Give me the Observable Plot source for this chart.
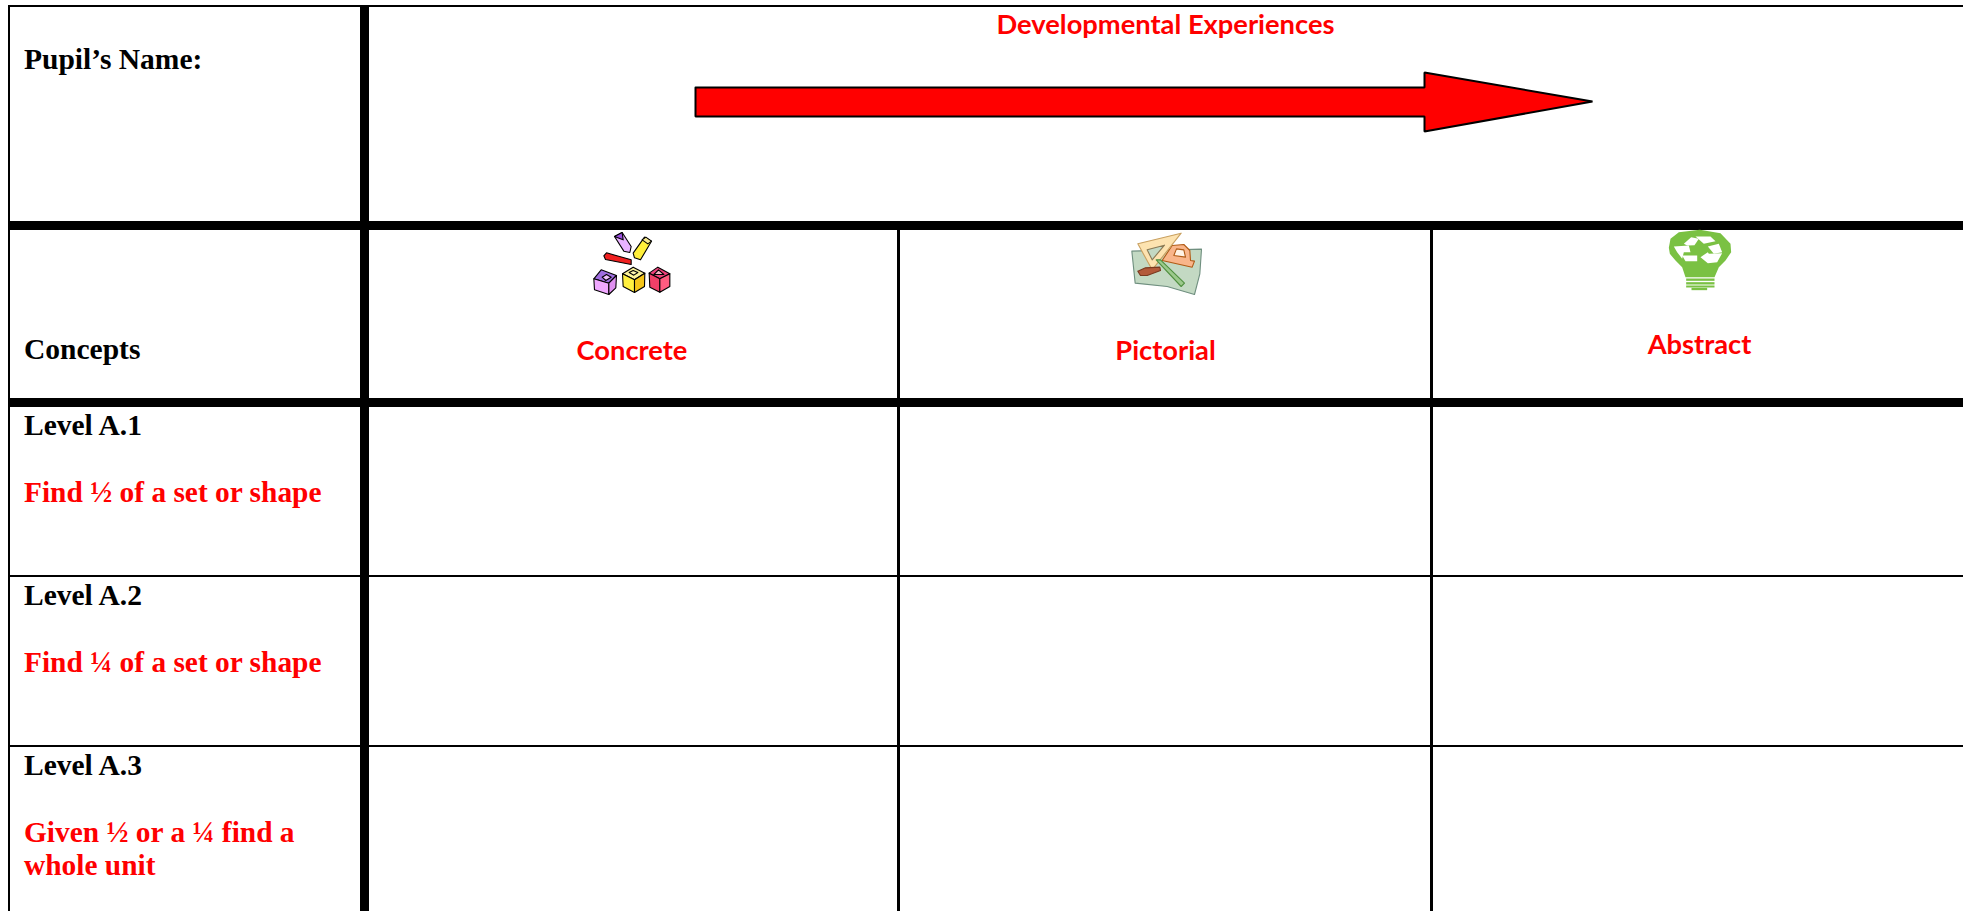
<!DOCTYPE html>
<html><head><meta charset="utf-8">
<style>html,body{margin:0;padding:0;background:#fff;overflow:hidden}svg{display:block}</style>
<script src="https://cdn.jsdelivr.net/npm/d3@7"></script>
<script src="https://cdn.jsdelivr.net/npm/@observablehq/plot@0.6"></script>
</head><body><div id="chart"></div>
<script>
const serif = "'Liberation Serif','Times New Roman',serif";
const sans = "Lato,Carlito,Calibri,sans-serif";
const RED = "#ff0000";

// Table rules [x1,x2,y1,y2]
const rules = [
  [8,1963,5,7],       // top border
  [8,10,5,911],       // left border
  [360,369,5,911],    // thick column rule
  [8,1963,221,230],   // thick row rule
  [8,1963,398,407],   // thick row rule
  [897,900,230,911],  // column rule
  [1430,1433,230,911],// column rule
  [8,1963,575,577],   // row rule
  [8,1963,745,747]    // row rule
];

// Text labels
const blackLabels = [
  ["Pupil’s Name:",23.5,68],
  ["Concepts",23.5,358],
  ["Level A.1",23.5,434],
  ["Level A.2",23.5,604],
  ["Level A.3",23.5,774]
];
const redSerifLabels = [
  ["Find ½ of a set or shape",23.5,501],
  ["Find ¼ of a set or shape",23.5,671],
  ["Given ½ or a ¼ find a",23.5,841],
  ["whole unit",23.5,874]
];
const redSansLabels = [
  ["Developmental Experiences",1165,33],
  ["Concrete",631.5,359],
  ["Pictorial",1165,359],
  ["Abstract",1699,353]
];

const arrowShape = [[695,87],[1424,87],[1424,72],[1592,101],[1424,131],[1424,116],[695,116],[695,87]];

// Clip-art icons, in crop coordinates [fill, stroke, points]
const concreteIcon = [
  ["#e9b3ff","#000",[[222,78],[245,66],[272,108],[268,126],[250,122]]],
  ["#9a4fe0","#000",[[222,78],[245,66],[248,88]]],
  ["#ffef3a","#000",[[278,128],[312,80],[333,92],[300,148],[282,142]]],
  ["#f7e98e","#000",[[305,88],[316,80],[333,92],[322,100]]],
  ["#f02020","#000",[[198,127],[272,148],[272,162],[195,147],[190,136]]],
  ["#a06ee0","#000",[[160,205],[182,178],[228,195],[205,218]]],
  ["#f0a8ff","#000",[[160,205],[205,218],[205,252],[162,238]]],
  ["#e090f0","#000",[[205,218],[228,195],[226,232],[205,252]]],
  ["#f0c0ff","#000",[[185,200],[198,192],[212,200],[196,210]]],
  ["#fbf39a","#000",[[246,190],[278,170],[313,188],[282,208]]],
  ["#fff040","#000",[[246,190],[282,208],[282,246],[248,228]]],
  ["#f5c518","#000",[[282,208],[313,188],[312,228],[282,246]]],
  ["#fff8b0","#000",[[266,186],[278,180],[292,186],[280,194]]],
  ["#f0407a","#000",[[326,188],[352,170],[388,190],[358,205]]],
  ["#f04068","#000",[[326,188],[358,205],[358,245],[328,230]]],
  ["#ff5c80","#000",[[358,205],[388,190],[388,228],[358,245]]],
  ["#f5b0c0","#000",[[340,192],[354,178],[370,192]]]
];
const pictorialIcon = [
  ["#c3d9c3","#6f8f7f",[[124,122],[333,116],[328,190],[312,252],[230,228],[134,218]]],
  ["#f9b58a","#b05a15",[[215,150],[245,105],[280,102],[298,120],[300,150],[312,152],[305,170]]],
  ["#fff3e6","#b05a15",[[250,135],[258,115],[280,118],[285,140]]],
  ["#fde3b0","#c9a060",[[142,100],[272,68],[185,178]]],
  ["#c3d9c3","#8a7a55",[[170,118],[222,104],[185,148]]],
  ["#9cc98c","#4f8f3f",[[197,148],[210,148],[282,218],[272,228]]],
  ["#b35a3a","#7a3a20",[[142,182],[165,172],[208,170],[210,180],[170,195],[150,195]]]
];
const abstractIcon = [
  ["#7ac143","none",[[145,112],[150,85],[175,65],[238,58],[300,68],[330,100],[332,125],[315,150],[295,170],[282,200],[195,200],[185,170],[165,150],[148,130]]],
  ["#7ac143","none",[[197,204],[282,204],[282,211],[197,211]]],
  ["#7ac143","none",[[197,215],[282,215],[282,222],[197,222]]],
  ["#7ac143","none",[[197,225],[282,225],[282,231],[197,231]]],
  ["#7ac143","none",[[213,232],[260,232],[260,239],[213,239]]],
  ["#ffffff","none",[[190,100],[212,80],[235,85],[222,104],[200,105]]],
  ["#ffffff","none",[[225,78],[270,78],[285,92],[250,100]]],
  ["#ffffff","none",[[262,108],[295,100],[305,125],[280,130]]],
  ["#ffffff","none",[[240,140],[262,125],[265,130],[305,128],[290,155],[262,158]]],
  ["#ffffff","none",[[185,135],[230,135],[230,152],[195,152]]],
  ["#ffffff","none",[[160,108],[205,105],[210,125],[190,125],[185,145],[170,125]]]
];
const iconPlacements = [[concreteIcon,540,210],[pictorialIcon,1090,210],[abstractIcon,1620,210]];

const iconRows = iconPlacements.flatMap(([icon,ox,oy],i) =>
  icon.flatMap(([fill,stroke,pts],j) =>
    [...pts,pts[0]].map(([x,y]) => ({x:ox+x/3,y:oy+y/3,id:`${i}-${j}`,fill,stroke}))));
const arrowRows = arrowShape.map(([x,y]) => ({x,y}));
const lab = a => a.map(([t,x,y]) => ({t,x,y}));

const chart = Plot.plot({
  width:1963,height:911,margin:0,
  x:{domain:[0,1963],range:[0,1963],axis:null},
  y:{domain:[0,911],range:[0,911],axis:null},
  style:{background:"#fff"},
  marks:[
    Plot.rect(rules,{x1:d=>d[0],x2:d=>d[1],y1:d=>d[2],y2:d=>d[3],fill:"#000"}),
    Plot.line(arrowRows,{x:"x",y:"y",fill:RED,stroke:"#000",strokeWidth:2,strokeLinejoin:"miter",curve:"linear"}),
    Plot.line(iconRows,{x:"x",y:"y",z:"id",fill:d=>d.fill,stroke:d=>d.stroke,strokeWidth:1.1,curve:"linear"}),
    Plot.text(lab(blackLabels),{x:"x",y:"y",text:"t",textAnchor:"start",lineAnchor:"bottom",fontFamily:serif,fontWeight:"bold",fontSize:29.5,fill:"#000"}),
    Plot.text(lab(redSerifLabels),{x:"x",y:"y",text:"t",textAnchor:"start",lineAnchor:"bottom",fontFamily:serif,fontWeight:"bold",fontSize:29.4,fill:RED}),
    Plot.text(lab(redSansLabels),{x:"x",y:"y",text:"t",textAnchor:"middle",lineAnchor:"bottom",fontFamily:sans,fontWeight:"bold",fontSize:27.3,fill:RED})
  ]
});
document.getElementById("chart").appendChild(chart);
</script></body></html>
